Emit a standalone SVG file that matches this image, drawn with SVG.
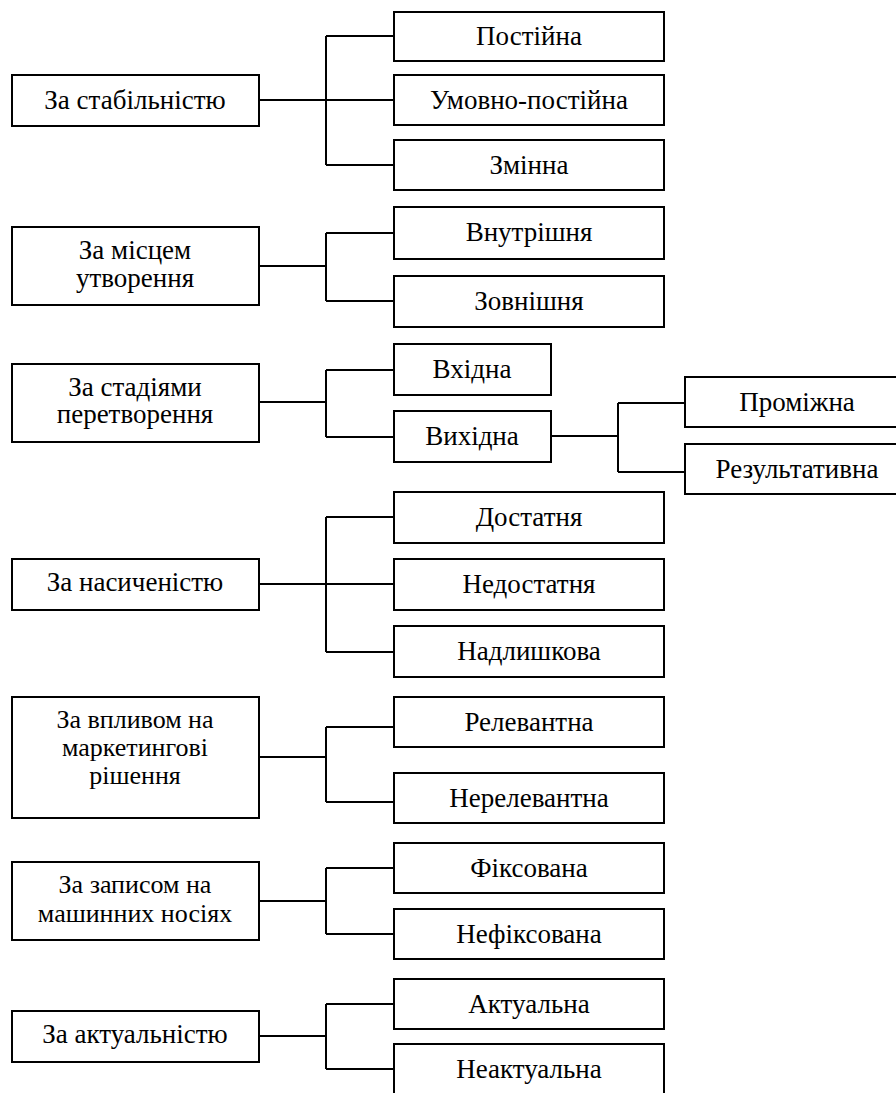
<svg xmlns="http://www.w3.org/2000/svg" width="896" height="1093" viewBox="0 0 896 1093">
<style>
rect.b{fill:#fff;stroke:#000;stroke-width:2}
text{font-family:'Liberation Serif','Times New Roman',serif;font-size:27px;fill:#000;text-anchor:middle}
.c path{fill:none;stroke:#000;stroke-width:2}
.s text{font-size:26px}
</style>
<rect x="0" y="0" width="896" height="1093" fill="#fff"/>
<g class="c" id="connectors">
<path d="M259 100H326M326 36V165M326 36H394M326 100H394M326 165H394"/>
<path d="M259 266H326M326 233V301M326 233H394M326 301H394"/>
<path d="M259 402H326M326 370V437M326 370H394M326 437H394"/>
<path d="M551 436H618M618 403V472M618 403H685M618 472H685"/>
<path d="M259 584H326M326 517V652M326 517H394M326 584H394M326 652H394"/>
<path d="M259 757H326M326 727V802M326 727H394M326 802H394"/>
<path d="M259 901H326M326 868V934M326 868H394M326 934H394"/>
<path d="M259 1036H326M326 1004V1069M326 1004H394M326 1069H394"/>
</g>
<g id="n1"><rect class="b" x="12" y="75" width="247" height="51"/><text x="135" y="109">За стабільністю</text></g>
<g id="n1a"><rect class="b" x="394" y="12" width="270" height="49"/><text x="529" y="45">Постійна</text></g>
<g id="n1b"><rect class="b" x="394" y="75" width="270" height="50"/><text x="529" y="109">Умовно-постійна</text></g>
<g id="n1c"><rect class="b" x="394" y="140" width="270" height="50"/><text x="529" y="174">Змінна</text></g>
<g id="n2"><rect class="b" x="12" y="227" width="247" height="78"/><text x="135" y="259">За місцем</text><text x="135" y="287">утворення</text></g>
<g id="n2a"><rect class="b" x="394" y="207" width="270" height="52"/><text x="529" y="241">Внутрішня</text></g>
<g id="n2b"><rect class="b" x="394" y="276" width="270" height="51"/><text x="529" y="310">Зовнішня</text></g>
<g id="n3"><rect class="b" x="12" y="364" width="247" height="78"/><text x="135" y="396">За стадіями</text><text x="135" y="423">перетворення</text></g>
<g id="n3a"><rect class="b" x="394" y="344" width="157" height="51"/><text x="472" y="378">Вхідна</text></g>
<g id="n3b"><rect class="b" x="394" y="411" width="157" height="51"/><text x="472" y="445">Вихідна</text></g>
<g id="n3b1"><rect class="b" x="685" y="377" width="225" height="50"/><text x="797" y="411">Проміжна</text></g>
<g id="n3b2"><rect class="b" x="685" y="444" width="225" height="50"/><text x="797" y="478">Результативна</text></g>
<g id="n4"><rect class="b" x="12" y="559" width="247" height="51"/><text x="135" y="591">За насиченістю</text></g>
<g id="n4a"><rect class="b" x="394" y="492" width="270" height="51"/><text x="529" y="526">Достатня</text></g>
<g id="n4b"><rect class="b" x="394" y="559" width="270" height="51"/><text x="529" y="593">Недостатня</text></g>
<g id="n4c"><rect class="b" x="394" y="626" width="270" height="51"/><text x="529" y="660">Надлишкова</text></g>
<g id="n5" class="s"><rect class="b" x="12" y="697" width="247" height="121"/><text x="135" y="728">За впливом на</text><text x="135" y="756">маркетингові</text><text x="135" y="784">рішення</text></g>
<g id="n5a"><rect class="b" x="394" y="697" width="270" height="50"/><text x="529" y="731">Релевантна</text></g>
<g id="n5b"><rect class="b" x="394" y="773" width="270" height="50"/><text x="529" y="807">Нерелевантна</text></g>
<g id="n6" class="s"><rect class="b" x="12" y="862" width="247" height="78"/><text x="135" y="893">За записом на</text><text x="135" y="922">машинних носіях</text></g>
<g id="n6a"><rect class="b" x="394" y="843" width="270" height="50"/><text x="529" y="877">Фіксована</text></g>
<g id="n6b"><rect class="b" x="394" y="909" width="270" height="50"/><text x="529" y="943">Нефіксована</text></g>
<g id="n7"><rect class="b" x="12" y="1011" width="247" height="51"/><text x="135" y="1043">За актуальністю</text></g>
<g id="n7a"><rect class="b" x="394" y="979" width="270" height="50"/><text x="529" y="1013">Актуальна</text></g>
<g id="n7b"><rect class="b" x="394" y="1044" width="270" height="60"/><text x="529" y="1078">Неактуальна</text></g>
</svg>
